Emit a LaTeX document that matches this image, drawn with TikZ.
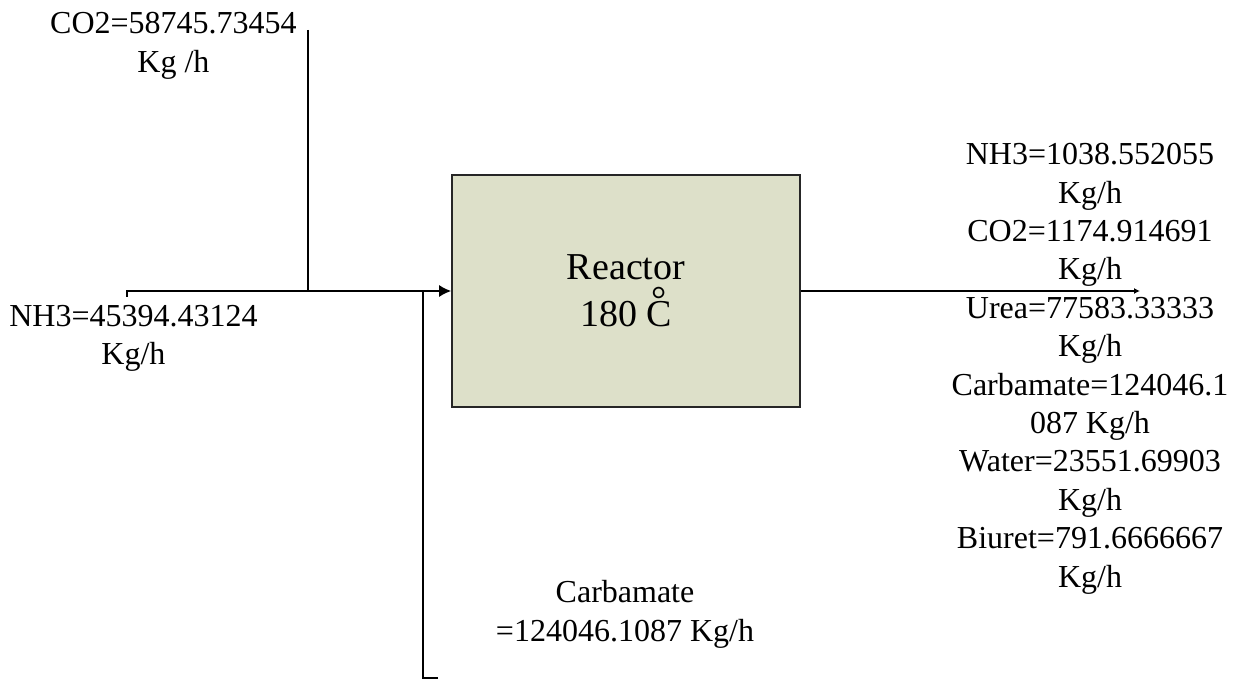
\documentclass[tikz,border=0pt]{standalone}
\usepackage{fontspec}
\setmainfont{Liberation Serif}
\usepackage{tikz}
\usetikzlibrary{arrows.meta}
\definecolor{reactorfill}{RGB}{221,224,201}
\newcommand{\ringC}{\ooalign{C\cr\hidewidth\raisebox{0.38em}{°}\hidewidth\cr}}

\begin{document}
\begin{tikzpicture}[x=0.5pt,y=-0.5pt]
		\tikzset{flow/.style={line width=0.9pt, black},
			stream/.style={inner sep=0pt, anchor=north, align=center, font=\fontsize{16}{19.2}\selectfont}}
		\useasboundingbox (0,0) rectangle (1237,679);
		\node (reactor) at (626,291) [draw=black!85,line width=0.8pt,fill=reactorfill,minimum width=174pt,minimum height=116pt,align=center,font=\fontsize{19}{23.5}\selectfont] {Reactor\\180 \ringC};
		\node (co2lbl) at (173.5,12) [stream] {CO2=58745.73454\\Kg /h};
		\node (nh3lbl) at (133.5,305) [stream] {NH3=45394.43124\\Kg/h};
		\node (carblbl) at (625,580) [stream] {Carbamate\\=124046.1087 Kg/h};
		\node (prodlbl) at (1090,143) [stream] {NH3=1038.552055\\Kg/h\\CO2=1174.914691\\Kg/h\\Urea=77583.33333\\Kg/h\\Carbamate=124046.1\\087 Kg/h\\Water=23551.69903\\Kg/h\\Biuret=791.6666667\\Kg/h};
		
		\coordinate (nh3start) at (127,297);
		\coordinate (nh3corner) at (127,291);
		\coordinate (co2top) at (308,30);
		\coordinate (co2join) at (308,291);
		\coordinate (carbstub) at (438,678);
		\coordinate (carbcorner) at (423,678);
		\coordinate (carbjoin) at (423,291);
		\coordinate (outend) at (1140,291);
		
		\draw [flow, -{Latex[length=6pt,width=6pt]}] (nh3start) -- (nh3corner) -- (reactor.west);
		\draw [flow] (co2top) -- (co2join);
		\draw [flow] (carbstub) -- (carbcorner) -- (carbjoin);
		\draw [flow, -{Latex[length=3pt,width=3pt]}] (reactor.east) -- (outend);
	\end{tikzpicture}
\end{document}
